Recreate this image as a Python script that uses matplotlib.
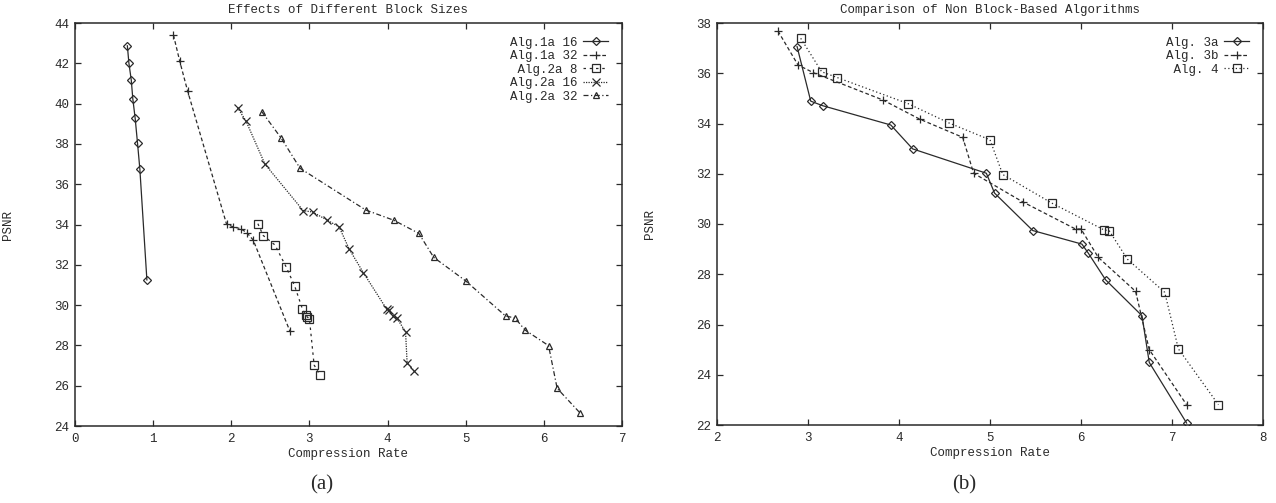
import matplotlib
matplotlib.use('Agg')
import matplotlib.pyplot as plt

# ---- data ----
# (a) Effects of Different Block Sizes
alg1a16_x = [0.67, 0.69, 0.72, 0.74, 0.77, 0.80, 0.83, 0.92]
alg1a16_y = [42.87, 42.0, 41.17, 40.23, 39.27, 38.04, 36.75, 31.25]

alg1a32_x = [1.26, 1.34, 1.44, 1.94, 2.02, 2.12, 2.20, 2.28, 2.75]
alg1a32_y = [43.4, 42.11, 40.64, 34.01, 33.89, 33.79, 33.59, 33.23, 28.71]

alg2a8_x = [2.34, 2.41, 2.56, 2.70, 2.81, 2.91, 2.95, 2.97, 3.00, 3.06, 3.13]
alg2a8_y = [34.04, 33.45, 32.98, 31.91, 30.96, 29.81, 29.51, 29.42, 29.31, 27.03, 26.55]

alg2a16_x = [2.08, 2.19, 2.43, 2.92, 3.04, 3.23, 3.38, 3.51, 3.69, 3.99, 4.02,
             4.07, 4.12, 4.23, 4.25, 4.34]
alg2a16_y = [39.80, 39.12, 37.0, 34.69, 34.62, 34.21, 33.88, 32.77, 31.61, 29.79,
             29.76, 29.47, 29.34, 28.68, 27.14, 26.74]

alg2a32_x = [2.39, 2.64, 2.88, 3.72, 4.08, 4.40, 4.59, 5.0, 5.51, 5.63, 5.76,
             6.06, 6.17, 6.46]
alg2a32_y = [39.60, 38.28, 36.79, 34.72, 34.21, 33.56, 32.37, 31.2, 29.46, 29.36,
             28.76, 27.99, 25.87, 24.66]

# (b) Comparison of Non Block-Based Algorithms
alg3a_x = [2.88, 3.03, 3.16, 3.91, 4.15, 4.96, 5.05, 5.47, 6.01, 6.08, 6.27,
           6.67, 6.75, 7.16]
alg3a_y = [37.06, 34.89, 34.71, 33.94, 32.99, 32.02, 31.23, 29.74, 29.2, 28.84,
           27.78, 26.35, 24.49, 22.08]

alg3b_x = [2.67, 2.89, 3.06, 3.82, 4.23, 4.70, 4.82, 5.36, 5.94, 6.0, 6.19,
           6.60, 6.75, 7.16]
alg3b_y = [37.68, 36.33, 36.02, 34.94, 34.17, 33.45, 32.02, 30.88, 29.8, 29.8,
           28.67, 27.32, 25.0, 22.81]

alg4_x = [2.92, 3.15, 3.32, 4.10, 4.55, 5.0, 5.14, 5.68, 6.25, 6.31, 6.51,
          6.92, 7.07, 7.51]
alg4_y = [37.39, 36.06, 35.83, 34.79, 34.02, 33.35, 31.97, 30.83, 29.77, 29.73,
          28.6, 27.28, 25.03, 22.81]

xticks_a = list(range(0, 8))
yticks_a = list(range(24, 46, 2))
xticks_b = list(range(2, 9))
yticks_b = list(range(22, 40, 2))

INK = '#2a2a2a'
MONO = 'Liberation Mono'
plt.rcParams['font.family'] = [MONO, 'DejaVu Sans Mono']
plt.rcParams['font.size'] = 9

fig = plt.figure(figsize=(12.76, 5.03), dpi=100, facecolor='white')
ax1 = fig.add_axes([75 / 1276, 1 - 426 / 503, 547 / 1276, 403 / 503])
ax2 = fig.add_axes([717 / 1276, 1 - 425 / 503, 546 / 1276, 402 / 503])

mk = dict(markersize=5, markerfacecolor='none', markeredgewidth=0.9, color=INK, linewidth=0.9)

ax1.plot(alg1a16_x, alg1a16_y, '-', marker='D', label='Alg.1a 16', **dict(mk, markersize=4))
ax1.plot(alg1a32_x, alg1a32_y, marker='+', linestyle=(0, (3, 2)), label='Alg.1a 32', **dict(mk, markersize=6))
ax1.plot(alg2a8_x, alg2a8_y, marker='s', linestyle=(0, (2, 3)), label=' Alg.2a 8', **dict(mk, markersize=6))
ax1.plot(alg2a16_x, alg2a16_y, marker='x', linestyle=(0, (1, 1)), label='Alg.2a 16', **dict(mk, markersize=6))
ax1.plot(alg2a32_x, alg2a32_y, marker='^', linestyle=(0, (4, 2, 1, 2)), label='Alg.2a 32', **dict(mk, markersize=5))

ax2.plot(alg3a_x, alg3a_y, '-', marker='D', label='Alg. 3a', **dict(mk, markersize=4))
ax2.plot(alg3b_x, alg3b_y, marker='+', linestyle=(0, (3, 2)), label='Alg. 3b', **dict(mk, markersize=6))
ax2.plot(alg4_x, alg4_y, marker='s', linestyle=(0, (1, 2)), label=' Alg. 4', **dict(mk, markersize=6))

panels = [
    (ax1, xticks_a, yticks_a, 'Effects of Different Block Sizes'),
    (ax2, xticks_b, yticks_b, 'Comparison of Non Block-Based Algorithms'),
]
for ax, xt, yt, title in panels:
    ax.set_xlim(xt[0], xt[-1])
    ax.set_ylim(yt[0], yt[-1])
    ax.set_xticks(xt)
    ax.set_yticks(yt)
    ax.tick_params(direction='in', top=True, right=True, length=4, width=0.9,
                   colors=INK, labelsize=9)
    ax.tick_params(axis='x', pad=5)
    ax.tick_params(axis='y', pad=4)
    for s in ax.spines.values():
        s.set_linewidth(1.1)
        s.set_color(INK)
    ax.set_title(title, fontsize=9, color=INK, pad=7)
    ax.set_xlabel('Compression Rate', fontsize=9, color=INK, labelpad=2)
    ax.set_ylabel('PSNR', fontsize=9, color=INK)
    ax.yaxis.set_label_coords(-0.112, 0.5)
    leg = ax.legend(loc='upper right', markerfirst=False, frameon=False,
                    handlelength=2.0, handletextpad=0.5, labelspacing=0.12,
                    borderaxespad=0.7, fontsize=9)
    for t in leg.get_texts():
        t.set_color(INK)

fig.text(322 / 1276, 1 - 485 / 503, '(a)', ha='center', va='center',
         family=['Liberation Serif', 'DejaVu Serif'], fontsize=15, color=INK)
fig.text(964 / 1276, 1 - 485 / 503, '(b)', ha='center', va='center',
         family=['Liberation Serif', 'DejaVu Serif'], fontsize=15, color=INK)

fig.savefig('out.png', dpi=100, facecolor='white')
